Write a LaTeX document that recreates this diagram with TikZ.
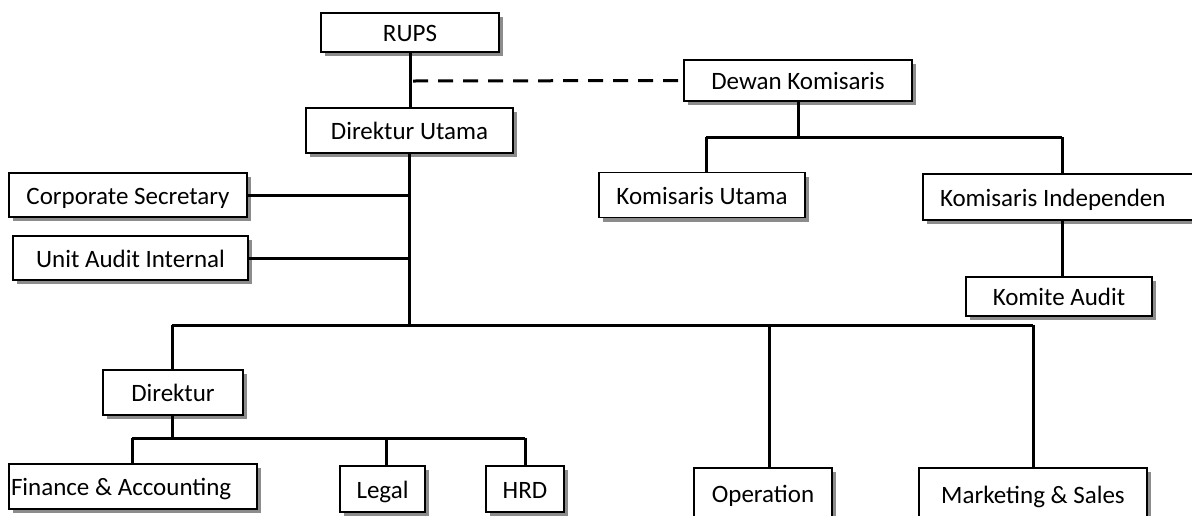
\documentclass[tikz,border=0pt]{standalone}
\usepackage{fontspec}
\setmainfont{Carlito}
\usetikzlibrary{shadows}
\begin{document}
\begin{tikzpicture}[x=1pt,y=-1pt,
  box/.style={draw=black, line width=1.3pt, fill=white, inner sep=0pt,
    font=\fontsize{25}{30}\selectfont, text height=21pt, text depth=3pt,
    drop shadow={shadow xshift=4pt, shadow yshift=-4pt, fill=black!45, opacity=1}},
  conn/.style={line width=3pt},
  dconn/.style={line width=3pt, dash pattern=on 15pt off 10pt}]
\useasboundingbox (0,0) rectangle (1192,515);
% boxes
\node[box, minimum width=178pt, minimum height=39pt] (rups) at (410,32.5) {RUPS};
\node[box, minimum width=228pt, minimum height=41pt] (dewan) at (798,80.5) {Dewan Komisaris};
\node[box, minimum width=207pt, minimum height=45pt] (dirut) at (409.5,130.5) {Direktur Utama};
\node[box, minimum width=238pt, minimum height=44pt] (corsec) at (128,195) {Corporate Secretary};
\node[box, minimum width=235pt, minimum height=44pt] (uai) at (130.5,258) {Unit Audit Internal};
\node[box, minimum width=206pt, minimum height=45pt] (ku) at (702,195) {Komisaris Utama};
\node[box, minimum height=46pt] (ki) at (1061.5,197) {\makebox[277pt][l]{\hspace*{17pt}Komisaris Independen}};
\node[box, minimum width=186pt, minimum height=39pt] (ka) at (1059,296.5) {Komite Audit};
\node[box, minimum width=140pt, minimum height=45pt] (dir) at (173,392.5) {Direktur};
\node[box, minimum height=45pt] (fin) at (133,486.5) {\makebox[248pt][l]{\hspace*{2pt}Finance \& Accounting}};
\node[box, minimum width=85pt, minimum height=46pt] (legal) at (382.5,489) {Legal};
\node[box, minimum width=78pt, minimum height=46pt] (hrd) at (525,489) {HRD};
\node[box, minimum width=138pt, minimum height=50pt] (op) at (763,493) {Operation};
\node[box, minimum width=228pt, minimum height=52pt] (mkt) at (1033,494) {Marketing \& Sales};
% junction coordinates
\coordinate (dj) at (413,81);
\coordinate (b1) at (409,325);
\coordinate (bl) at (172,325);
\coordinate (bop) at (769,325);
\coordinate (br) at (1033,325);
\coordinate (d2) at (172,438);
\coordinate (dl) at (132,438);
\coordinate (dm) at (386,438);
\coordinate (dr) at (525,438);
\coordinate (k0) at (798,137);
\coordinate (kl) at (706,137);
\coordinate (kr) at (1062,137);
% connectors
\draw[conn] (rups.south) -- (rups.south |- dirut.north);
\draw[dconn] (dj) -- (dewan.west);
\draw[conn] (b1 |- dirut.south) -- (b1);
\draw[conn] (corsec.east) -- (corsec.east -| b1);
\draw[conn] (uai.east) -- (uai.east -| b1);
\draw[conn] (bl) -- (br);
\draw[conn] (bl) -- (bl |- dir.north);
\draw[conn] (bop) -- (bop |- op.north);
\draw[conn] (br) -- (br |- mkt.north);
\draw[conn] (d2 |- dir.south) -- (d2);
\draw[conn] (dl) -- (dr);
\draw[conn] (dl) -- (dl |- fin.north);
\draw[conn] (dm) -- (dm |- legal.north);
\draw[conn] (dr) -- (dr |- hrd.north);
\draw[conn] (k0 |- dewan.south) -- (k0);
\draw[conn] (kl) -- (kr);
\draw[conn] (kl) -- (kl |- ku.north);
\draw[conn] (kr) -- (kr |- ki.north);
\draw[conn] (kr |- ki.south) -- (kr |- ka.north);
\end{tikzpicture}
\end{document}
